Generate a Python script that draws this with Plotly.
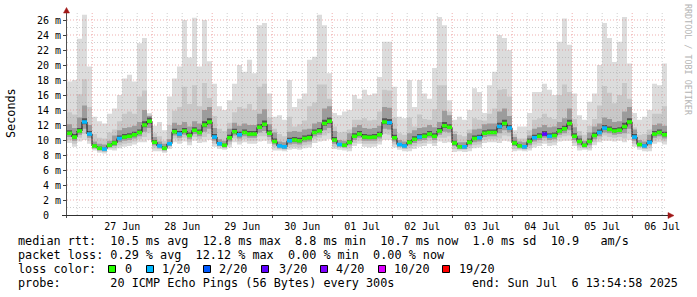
import plotly.graph_objects as go
import pandas as pd

# ---------------- data (2-hour steps) ----------------
END = pd.Timestamp("2025-07-06 13:54:58")
START = END - pd.Timedelta(days=10)
STEP = pd.Timedelta(hours=2)

median_ms = [
    10.9, 10.4, 11.2, 12.4, 10.8, 9.2, 8.9, 8.8, 9.3, 9.6,
    10.2, 10.4, 10.5, 10.7, 11.0, 12.0, 12.5, 9.7, 9.2, 8.9,
    9.5, 11.1, 10.8, 11.2, 10.6, 11.3, 11.0, 12.0, 12.4, 10.4,
    9.5, 9.3, 10.3, 11.1, 10.7, 11.0, 10.8, 10.8, 11.7, 12.1,
    10.9, 9.8, 9.2, 9.1, 9.9, 10.0, 9.9, 10.2, 10.3, 11.0,
    11.2, 12.2, 12.5, 10.0, 9.4, 9.3, 9.7, 10.5, 10.8, 10.4,
    10.35, 10.4, 10.7, 12.4, 12.3, 10.3, 9.4, 9.2, 9.7, 10.1,
    10.4, 10.5, 10.8, 10.5, 11.2, 11.9, 11.7, 9.6, 9.1, 9.1,
    9.7, 10.2, 10.3, 10.9, 11.0, 11.0, 11.8, 12.2, 11.6, 9.6,
    9.2, 9.1, 9.8, 10.3, 10.5, 10.8, 10.5, 10.6, 11.2, 11.5,
    12.2, 10.5, 9.8, 9.3, 9.8, 10.6, 11.0, 11.6, 11.4, 11.2,
    11.3, 11.8, 12.4, 10.4, 9.4, 9.2, 9.7, 10.8, 11.0, 10.7,
]

# sorted ping levels (ms) per step: p1 lowest ... p20 highest
ping_p1 = [
    9.6, 9.1, 9.8, 10.0, 9.5, 8.6, 8.3, 8.2, 8.7, 8.6,
    8.9, 9.1, 9.2, 9.4, 9.7, 9.7, 10.0, 8.5, 8.5, 8.3,
    8.8, 9.7, 9.5, 9.8, 9.3, 9.9, 9.6, 9.7, 10.0, 9.1,
    8.8, 8.7, 9.0, 9.7, 9.4, 9.7, 9.5, 9.5, 9.8, 9.9,
    9.5, 8.6, 8.6, 8.5, 8.7, 8.8, 8.7, 8.9, 9.0, 9.6,
    9.8, 9.9, 10.1, 8.8, 8.7, 8.6, 8.5, 9.2, 9.5, 9.1,
    9.0, 9.1, 9.4, 10.0, 10.0, 9.0, 8.7, 8.5, 8.5, 8.8,
    9.1, 9.2, 9.5, 9.2, 9.8, 9.6, 9.7, 8.4, 8.5, 8.4,
    8.5, 8.9, 9.0, 9.6, 9.7, 9.7, 9.6, 9.9, 9.8, 8.5,
    8.6, 8.5, 8.6, 9.0, 9.2, 9.5, 9.2, 9.3, 9.8, 9.9,
    9.9, 9.2, 8.6, 8.7, 8.6, 9.3, 9.7, 9.9, 9.9, 9.8,
    9.9, 9.7, 10.0, 9.1, 8.7, 8.5, 8.5, 9.5, 9.7, 9.4,
]
ping_p3 = [
    10.0, 9.5, 10.3, 10.8, 9.9, 8.8, 8.5, 8.4, 8.9, 8.9,
    9.3, 9.5, 9.6, 9.8, 10.1, 10.4, 10.9, 8.9, 8.8, 8.5,
    9.1, 10.2, 9.9, 10.3, 9.7, 10.4, 10.1, 10.4, 10.8, 9.5,
    9.1, 8.9, 9.4, 10.2, 9.8, 10.1, 9.9, 9.9, 10.5, 10.5,
    10.0, 9.0, 8.8, 8.7, 9.0, 9.1, 9.0, 9.3, 9.4, 10.1,
    10.3, 10.6, 10.9, 9.1, 9.0, 8.9, 8.9, 9.6, 9.9, 9.5,
    9.5, 9.5, 9.8, 10.8, 10.7, 9.4, 9.0, 8.8, 8.9, 9.2,
    9.5, 9.6, 9.9, 9.6, 10.3, 10.3, 10.5, 8.8, 8.7, 8.7,
    8.9, 9.3, 9.4, 10.0, 10.1, 10.1, 10.2, 10.6, 10.5, 8.8,
    8.8, 8.7, 8.9, 9.4, 9.6, 9.9, 9.6, 9.7, 10.3, 10.5,
    10.6, 9.6, 9.0, 8.9, 8.9, 9.7, 10.1, 10.6, 10.4, 10.3,
    10.4, 10.2, 10.8, 9.5, 9.0, 8.8, 8.9, 9.9, 10.1, 9.8,
]
ping_p6 = [
    10.4, 9.9, 10.7, 11.5, 10.3, 8.9, 8.6, 8.5, 9.0, 9.2,
    9.7, 9.9, 10.0, 10.2, 10.5, 11.1, 11.6, 9.3, 8.9, 8.6,
    9.2, 10.6, 10.3, 10.7, 10.1, 10.8, 10.5, 11.1, 11.5, 9.9,
    9.2, 9.0, 9.8, 10.6, 10.2, 10.5, 10.3, 10.3, 11.0, 11.2,
    10.4, 9.4, 8.9, 8.8, 9.4, 9.5, 9.4, 9.7, 9.8, 10.5,
    10.7, 11.3, 11.6, 9.5, 9.1, 9.0, 9.3, 10.0, 10.3, 9.9,
    9.9, 9.9, 10.2, 11.5, 11.4, 9.8, 9.1, 8.9, 9.3, 9.6,
    9.9, 10.0, 10.3, 10.0, 10.7, 11.1, 11.0, 9.2, 8.8, 8.8,
    9.3, 9.7, 9.8, 10.4, 10.5, 10.5, 10.9, 11.3, 11.0, 9.2,
    8.9, 8.8, 9.3, 9.8, 10.0, 10.3, 10.0, 10.1, 10.7, 10.9,
    11.3, 10.0, 9.3, 9.0, 9.3, 10.1, 10.5, 11.0, 10.9, 10.7,
    10.8, 10.9, 11.5, 9.9, 9.1, 8.9, 9.3, 10.3, 10.5, 10.2,
]
ping_p9 = [
    10.7, 10.2, 11.0, 12.1, 10.6, 9.1, 8.8, 8.7, 9.2, 9.4,
    10.0, 10.2, 10.3, 10.5, 10.8, 11.7, 12.2, 9.5, 9.1, 8.8,
    9.4, 10.9, 10.6, 11.0, 10.4, 11.1, 10.8, 11.7, 12.1, 10.2,
    9.4, 9.2, 10.1, 10.9, 10.5, 10.8, 10.6, 10.6, 11.5, 11.8,
    10.7, 9.6, 9.1, 9.0, 9.7, 9.8, 9.7, 10.0, 10.1, 10.8,
    11.0, 11.9, 12.2, 9.8, 9.3, 9.2, 9.5, 10.3, 10.6, 10.2,
    10.2, 10.2, 10.5, 12.1, 12.0, 10.1, 9.3, 9.1, 9.5, 9.9,
    10.2, 10.3, 10.6, 10.3, 11.0, 11.6, 11.5, 9.4, 9.0, 9.0,
    9.5, 10.0, 10.1, 10.7, 10.8, 10.8, 11.5, 11.9, 11.4, 9.4,
    9.1, 9.0, 9.6, 10.1, 10.3, 10.6, 10.3, 10.4, 11.0, 11.3,
    11.9, 10.3, 9.6, 9.2, 9.6, 10.4, 10.8, 11.4, 11.2, 11.0,
    11.1, 11.5, 12.1, 10.2, 9.3, 9.1, 9.5, 10.6, 10.8, 10.5,
]
ping_p12 = [
    11.3, 10.8, 11.6, 12.9, 11.2, 9.4, 9.1, 9.0, 9.5, 9.9,
    10.6, 10.8, 10.9, 11.1, 11.4, 12.5, 13.0, 10.0, 9.4, 9.1,
    9.7, 11.5, 11.2, 11.6, 11.0, 11.7, 11.4, 12.5, 12.9, 10.8,
    9.7, 9.5, 10.7, 11.5, 11.1, 11.4, 11.2, 11.2, 12.1, 12.6,
    11.3, 10.2, 9.4, 9.3, 10.3, 10.4, 10.3, 10.6, 10.7, 11.4,
    11.6, 12.7, 13.0, 10.4, 9.6, 9.5, 10.0, 10.9, 11.2, 10.8,
    10.7, 10.8, 11.1, 12.9, 12.8, 10.7, 9.6, 9.4, 10.0, 10.5,
    10.8, 10.9, 11.2, 10.9, 11.6, 12.4, 12.1, 9.9, 9.3, 9.3,
    10.0, 10.6, 10.7, 11.3, 11.4, 11.4, 12.3, 12.7, 12.0, 9.9,
    9.4, 9.3, 10.2, 10.7, 10.9, 11.2, 10.9, 11.0, 11.6, 11.9,
    12.7, 10.9, 10.2, 9.5, 10.2, 11.0, 11.4, 12.0, 11.8, 11.6,
    11.7, 12.3, 12.9, 10.8, 9.6, 9.4, 10.0, 11.2, 11.4, 11.1,
]
ping_p15 = [
    12.1, 11.6, 13.0, 14.6, 12.0, 9.8, 9.5, 9.4, 9.9, 10.6,
    11.3, 11.6, 11.7, 11.9, 12.4, 14.0, 13.2, 10.4, 9.8, 9.5,
    10.1, 12.3, 12.0, 12.4, 11.8, 12.5, 12.2, 14.0, 14.4, 11.6,
    10.1, 9.9, 11.5, 12.3, 11.9, 12.2, 12.0, 12.0, 13.5, 14.1,
    12.1, 11.0, 9.8, 9.7, 11.1, 11.2, 11.1, 11.4, 11.5, 12.2,
    12.4, 14.2, 14.5, 11.2, 10.0, 9.9, 10.9, 11.7, 12.0, 11.6,
    11.5, 11.6, 11.9, 14.4, 14.3, 11.5, 10.0, 9.8, 10.9, 11.3,
    11.6, 11.7, 12.0, 11.7, 12.4, 13.9, 13.3, 10.8, 9.7, 9.7,
    10.9, 11.4, 11.5, 12.1, 12.2, 12.2, 13.8, 14.2, 13.2, 10.4,
    9.8, 9.7, 10.6, 11.5, 11.7, 12.0, 11.7, 11.8, 12.4, 12.9,
    14.2, 11.7, 10.6, 9.9, 11.0, 11.8, 12.2, 13.0, 12.8, 12.4,
    12.5, 13.8, 14.4, 11.4, 10.0, 9.8, 10.7, 12.0, 12.2, 11.9,
]
ping_p18 = [
    13.7, 13.4, 16.1, 18.1, 14.4, 10.8, 10.3, 10.2, 11.0, 11.4,
    12.5, 13.5, 13.8, 13.5, 15.8, 16.6, 13.4, 10.9, 10.5, 9.9,
    12.0, 13.9, 14.4, 17.1, 14.8, 17.3, 14.5, 17.6, 15.6, 13.2,
    11.5, 11.2, 12.3, 13.7, 14.4, 14.2, 14.8, 14.0, 17.1, 17.5,
    13.0, 11.5, 10.8, 10.5, 13.1, 11.8, 12.1, 12.6, 14.5, 15.0,
    17.4, 17.4, 15.5, 11.8, 11.0, 11.1, 11.4, 12.7, 12.7, 12.9,
    12.6, 12.7, 13.8, 16.7, 16.6, 13.0, 10.9, 10.7, 13.0, 11.8,
    13.4, 12.8, 12.7, 14.1, 17.3, 17.3, 13.8, 11.2, 10.7, 10.5,
    11.4, 12.9, 12.7, 12.6, 13.5, 14.2, 16.7, 16.8, 15.8, 10.8,
    10.2, 10.2, 11.3, 12.7, 12.9, 13.5, 13.0, 12.8, 16.0, 17.4,
    16.4, 12.8, 11.2, 10.7, 11.9, 12.8, 14.6, 17.2, 16.3, 14.9,
    16.0, 17.6, 15.5, 11.7, 10.7, 10.8, 11.4, 13.5, 13.5, 14.5,
]
ping_p20 = [
    17.8, 18.0, 23.5, 26.7, 19.8, 13.1, 12.5, 12.2, 13.5, 14.2,
    16.0, 18.2, 18.7, 17.8, 22.9, 23.6, 13.6, 11.9, 12.4, 11.3,
    15.8, 18.2, 19.8, 26.0, 21.0, 26.3, 19.8, 26.0, 20.5, 17.5,
    14.5, 14.0, 15.3, 17.5, 20.0, 19.1, 20.7, 18.9, 25.3, 25.6,
    16.2, 13.1, 13.3, 12.7, 18.0, 14.4, 15.5, 16.2, 20.7, 21.1,
    26.7, 25.3, 18.9, 13.6, 13.3, 13.8, 14.0, 16.0, 15.5, 16.7,
    16.0, 16.2, 18.4, 23.1, 23.1, 17.1, 13.1, 12.9, 18.0, 14.4,
    18.0, 16.2, 15.5, 19.6, 26.4, 25.3, 15.3, 12.7, 13.1, 12.7,
    14.0, 16.9, 16.4, 13.6, 17.3, 19.1, 24.0, 23.6, 22.0, 11.3,
    11.8, 11.8, 13.6, 16.4, 16.4, 17.5, 16.7, 16.0, 23.1, 26.2,
    22.7, 16.2, 13.3, 12.7, 15.1, 16.2, 20.0, 25.6, 23.6, 20.4,
    23.1, 26.4, 20.2, 13.6, 12.7, 13.1, 14.0, 17.5, 17.3, 20.2,
]

# lost pings (out of 20) per step
loss_of_20 = [
    0, 0, 0, 1, 1, 0, 0, 1, 0, 0,
    1, 0, 0, 0, 0, 0, 0, 0, 1, 0,
    1, 0, 1, 0, 0, 0, 0, 0, 0, 1,
    1, 0, 0, 0, 1, 0, 0, 0, 0, 0,
    0, 0, 1, 1, 1, 0, 0, 0, 0, 0,
    0, 0, 0, 0, 1, 0, 0, 0, 0, 0,
    0, 0, 0, 0, 1, 0, 1, 1, 0, 0,
    1, 0, 0, 0, 0, 0, 0, 0, 0, 1,
    0, 0, 1, 0, 0, 0, 1, 0, 1, 0,
    0, 1, 0, 1, 0, 3, 1, 0, 0, 0,
    0, 0, 0, 0, 0, 0, 1, 1, 0, 0,
    0, 0, 0, 1, 0, 1, 1, 0, 0, 0,
]

loss_levels = [0, 1, 2, 3, 4, 10, 19]
loss_labels = ["0", "1/20", "2/20", "3/20", "4/20", "10/20", "19/20"]
loss_colors = ["#26ff00", "#00b8ff", "#0059ff", "#5e00ff", "#7e00ff", "#dd00ff", "#ff0000"]

y_tick_vals = list(range(0, 27, 2))
y_tick_text = ["0\u00a0\u00a0"] + [f"{v} m" for v in range(2, 27, 2)]

stats_rtt = "median rtt:  10.5 ms avg  12.8 ms max  8.8 ms min  10.7 ms now  1.0 ms sd  10.9   am/s"
stats_loss = "packet loss: 0.29 % avg  12.12 % max  0.00 % min  0.00 % now"
probe_text = "probe:       20 ICMP Echo Pings (56 Bytes) every 300s"
end_text = "end: Sun Jul  6 13:54:58 2025"

# ---------------- layout helpers ----------------
W, H = 697, 297
L, R, T, B = 67, 30, 13, 82
PW, PH = W - L - R, H - T - B
PX_PER_MS = 7.5
MONO = "DejaVu Sans Mono"


def px(x):
    return (x - L) / PW


def py(y):
    return (T + PH - y) / PH


n = len(median_ms)
edges = [START + STEP * i for i in range(n + 1)]


def stepped(vals):
    return list(vals) + [vals[-1]]


fig = go.Figure()

bands = [
    (ping_p1, ping_p20, "#dcdcdc"),
    (ping_p3, ping_p18, "#c8c8c8"),
    (ping_p6, ping_p15, "#9c9c9c"),
    (ping_p9, ping_p12, "#555555"),
]
for lo, hi, col in bands:
    fig.add_trace(go.Scatter(x=edges, y=stepped(lo), mode="lines",
                             line=dict(width=0, shape="hv"), hoverinfo="skip", showlegend=False))
    fig.add_trace(go.Scatter(x=edges, y=stepped(hi), mode="lines", fill="tonexty",
                             fillcolor=col, line=dict(width=0, shape="hv"),
                             hoverinfo="skip", showlegend=False))

fig.add_trace(go.Scatter(x=edges, y=stepped(median_ms), mode="lines",
                         line=dict(color="#111111", width=1, shape="hv"),
                         hoverinfo="skip", showlegend=False))


def loss_index(v):
    idx = 0
    for i, lv in enumerate(loss_levels):
        if v >= lv:
            idx = i
    return idx


# coloured median segments, one trace per loss colour
seg_x = {i: [] for i in range(len(loss_levels))}
seg_y = {i: [] for i in range(len(loss_levels))}
for i, (m, lv) in enumerate(zip(median_ms, loss_of_20)):
    k = loss_index(lv)
    seg_x[k] += [edges[i], edges[i + 1], None]
    seg_y[k] += [m, m, None]
for k in seg_x:
    if seg_x[k]:
        fig.add_trace(go.Scatter(x=seg_x[k], y=seg_y[k], mode="lines",
                                 line=dict(color=loss_colors[k], width=3.5),
                                 hoverinfo="skip", showlegend=False))

shapes = []
# grid (drawn above the smoke, as rrdtool does)
t = pd.Timestamp("2025-06-26 18:00")
while t < END:
    major = t.hour == 0
    shapes.append(dict(type="line", xref="x", yref="paper", x0=t, x1=t, y0=0, y1=1, layer="above",
                       line=dict(color="rgba(225,110,110,0.55)" if major else "rgba(150,150,150,0.45)",
                                 width=1, dash="1px,2px")))
    t += pd.Timedelta(hours=6)
for v in range(1, 27):
    major = v % 2 == 0
    shapes.append(dict(type="line", xref="paper", yref="y", x0=0, x1=1, y0=v, y1=v, layer="above",
                       line=dict(color="rgba(225,110,110,0.55)" if major else "rgba(150,150,150,0.45)",
                                 width=1, dash="1px,2px")))
# axes with arrows
shapes.append(dict(type="line", xref="paper", yref="paper", x0=px(66.5), x1=px(66.5), y0=py(218), y1=py(11),
                   line=dict(color="#505050", width=1), layer="above"))
shapes.append(dict(type="line", xref="paper", yref="paper", x0=px(62), x1=px(669), y0=py(215.5), y1=py(215.5),
                   line=dict(color="#303030", width=1), layer="above"))
shapes.append(dict(type="path", xref="paper", yref="paper", layer="above",
                   path=f"M {px(63.5)} {py(13)} L {px(69.5)} {py(13)} L {px(66.5)} {py(7.5)} Z",
                   fillcolor="#a01818", line=dict(color="#a01818", width=0.5)))
shapes.append(dict(type="path", xref="paper", yref="paper", layer="above",
                   path=f"M {px(668)} {py(212.5)} L {px(668)} {py(218.5)} L {px(674)} {py(215.5)} Z",
                   fillcolor="#a01818", line=dict(color="#a01818", width=0.5)))

# loss colour legend squares
sq_x = [108.5, 146.5, 203.5, 261.5, 320.5, 378.5, 442.5]
lab_x = [123, 160, 216.5, 276.5, 333.5, 391.5, 456.5]
for xs, col in zip(sq_x, loss_colors):
    shapes.append(dict(type="rect", xref="paper", yref="paper", x0=px(xs), x1=px(xs + 7),
                       y0=py(272.5), y1=py(265.5), fillcolor=col, line=dict(color="#000000", width=1)))

annotations = []


def text(x, y, s, anchor="left", size=11.8, color="#000000", angle=0):
    annotations.append(dict(x=px(x), y=py(y), xref="paper", yref="paper", text=s, showarrow=False,
                            xanchor=anchor, yanchor="middle", textangle=angle,
                            font=dict(family=MONO, size=size, color=color)))


text(16, 241.5, stats_rtt)
text(16, 255.3, stats_loss)
text(16, 269.2, "loss color:")
for xl, lab in zip(lab_x, loss_labels):
    text(xl, 269.2, lab)
text(16, 283, probe_text)
text(680, 283, end_text, anchor="right")
text(11, 113, "Seconds", anchor="center", angle=-90)
text(688, 60, "RRDTOOL / TOBI OETIKER", anchor="center", size=8.4, color="#b4b4b4", angle=90)

fig.update_layout(
    width=W, height=H, margin=dict(l=L, r=R, t=T, b=B, pad=0),
    paper_bgcolor="#ffffff", plot_bgcolor="#ffffff",
    showlegend=False,
    shapes=shapes, annotations=annotations,
    xaxis=dict(type="date", range=[START, END], tickmode="linear",
               tick0="2025-06-27 00:00:00", dtick=86400000, ticklabelmode="period",
               tickformat="%d %b", showgrid=False, zeroline=False, showline=False,
               ticks="outside", ticklen=2, tickcolor="#404040",
               tickfont=dict(family=MONO, size=10, color="#000000")),
    yaxis=dict(range=[0, PH / PX_PER_MS], tickmode="array", tickvals=y_tick_vals, ticktext=y_tick_text,
               showgrid=False, zeroline=False, showline=False,
               ticks="outside", ticklen=3, tickcolor="#404040",
               tickfont=dict(family=MONO, size=10, color="#000000")),
)

fig.write_html("out.html")
